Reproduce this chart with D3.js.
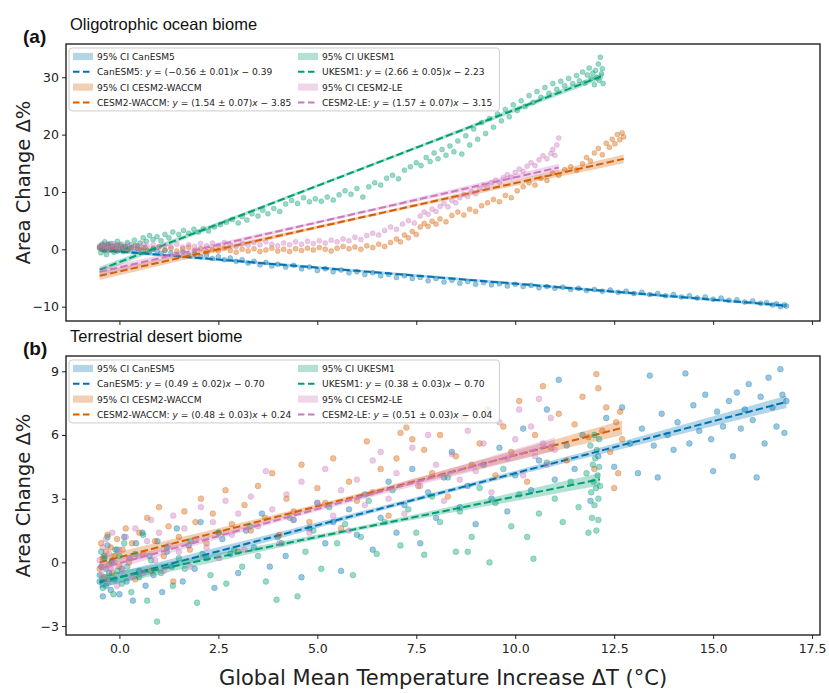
<!DOCTYPE html>
<html><head><meta charset="utf-8">
<script src="https://cdn.jsdelivr.net/npm/d3@7"></script>
<style>
body{margin:0;background:#fff}
text{font-family:"DejaVu Sans",sans-serif}
</style>
</head><body>
<svg id="chart" width="829" height="693"></svg>
<script>
// Climate models, in legend order (column by column)
const models = ["CanESM5", "CESM2-WACCM", "UKESM1", "CESM2-LE"];
const modelColors = ["#0173b2", "#d55e00", "#029e73", "#cc78bc"];

// Regression fits: y = (slope ± err) x + intercept
const oceanSlope = [-0.56, 1.54, 2.66, 1.57];
const oceanSlopeErr = [0.01, 0.07, 0.05, 0.07];
const oceanIntercept = [-0.39, -3.85, -2.23, -3.15];
const desertSlope = [0.49, 0.48, 0.38, 0.51];
const desertSlopeErr = [0.02, 0.03, 0.03, 0.03];
const desertIntercept = [-0.70, 0.24, -0.70, -0.04];

const xTicks = [0, 2.5, 5, 7.5, 10, 12.5, 15, 17.5];
const oceanYTicks = [-10, 0, 10, 20, 30];
const desertYTicks = [-3, 0, 3, 6, 9];

// Oligotrophic ocean biome: [ΔT, area change %]
const oceanCanESM5 = [[-0.5,0.4],[-0.45,0.1],[-0.42,0.7],[-0.38,-0.2],[-0.33,0.3],[-0.28,0.9],[-0.22,0.0],[-0.17,0.5],[-0.1,0.2],[-0.05,-0.3],[0.02,0.6],[0.08,0.1],[0.15,0.4],[0.22,-0.1],[0.3,0.3],[0.38,-0.4],[0.45,0.2],[0.55,-0.2],[0.65,0.3],[0.75,-0.5],[0.85,0.0],[0.95,-0.3],[1.05,-0.7],[1.15,-0.2],[1.3,-0.6],[1.45,-0.9],[1.6,-0.5],[1.75,-1.1],[1.9,-0.8],[2.05,-1.3],[2.2,-1.0],[2.35,-1.6],[2.5,-1.3],[2.65,-1.8],[2.8,-1.5],[2.95,-2.1],[3.1,-1.8],[3.25,-2.4],[3.4,-2.1],[3.55,-2.7],[3.7,-2.3],[3.85,-2.9],[4.0,-2.6],[4.2,-3.1],[4.4,-2.8],[4.6,-3.4],[4.8,-3.1],[5.0,-3.7],[5.2,-3.4],[5.4,-3.9],[5.6,-3.6],[5.8,-4.1],[6.0,-3.9],[6.2,-4.4],[6.4,-4.1],[6.6,-4.6],[6.8,-4.4],[7.0,-4.9],[7.2,-4.6],[7.4,-5.1],[7.6,-4.9],[7.8,-5.5],[8.0,-5.1],[8.2,-5.7],[8.4,-5.4],[8.6,-5.9],[8.8,-5.6],[9.0,-6.1],[9.2,-5.8],[9.4,-6.2],[9.6,-6.0],[9.8,-6.4],[10.0,-6.1],[10.2,-6.5],[10.4,-6.3],[10.6,-6.7],[10.8,-6.5],[11.0,-6.8],[11.2,-6.6],[11.4,-7.0],[11.6,-6.8],[11.8,-7.2],[12.0,-7.0],[12.2,-7.3],[12.4,-7.1],[12.6,-7.5],[12.8,-7.3],[13.0,-7.7],[13.2,-7.5],[13.4,-7.9],[13.6,-7.7],[13.8,-8.1],[14.0,-7.9],[14.2,-8.3],[14.4,-8.1],[14.6,-8.5],[14.8,-8.3],[15.0,-8.7],[15.2,-8.5],[15.4,-8.9],[15.6,-8.8],[15.8,-9.2],[16.0,-9.0],[16.2,-9.4],[16.35,-9.3],[16.5,-9.7],[16.6,-9.5],[16.7,-10.0],[16.8,-9.7],[16.85,-9.9]];
const oceanCESM2WACCM = [[-0.5,0.2],[-0.45,0.6],[-0.4,-0.1],[-0.35,0.4],[-0.3,0.8],[-0.25,0.1],[-0.2,0.5],[-0.15,-0.2],[-0.1,0.3],[-0.05,0.7],[0.0,0.0],[0.1,0.4],[0.2,-0.1],[0.3,0.3],[0.4,0.6],[0.5,0.0],[0.6,0.3],[0.7,-0.2],[0.85,0.2],[1.0,0.5],[1.15,-0.1],[1.3,0.2],[1.45,-0.3],[1.6,0.1],[1.75,0.4],[1.9,-0.2],[2.05,0.1],[2.2,-0.4],[2.35,0.0],[2.5,-0.3],[2.65,0.2],[2.8,-0.2],[2.95,-0.5],[3.1,0.0],[3.25,-0.3],[3.4,0.1],[3.55,-0.4],[3.7,-0.1],[3.85,0.2],[4.0,-0.3],[4.15,0.0],[4.3,-0.4],[4.45,0.1],[4.6,-0.2],[4.75,0.2],[4.9,-0.1],[5.05,0.3],[5.2,0.0],[5.35,-0.3],[5.5,0.2],[5.65,0.5],[5.8,0.1],[5.95,0.4],[6.1,0.0],[6.25,0.6],[6.4,0.3],[6.55,0.9],[6.7,0.5],[6.85,1.2],[7.0,1.8],[7.1,1.3],[7.2,2.5],[7.3,2.0],[7.4,3.1],[7.5,2.6],[7.6,3.9],[7.7,4.5],[7.8,4.0],[7.9,4.9],[8.0,4.4],[8.1,5.3],[8.25,4.8],[8.4,5.9],[8.55,6.5],[8.7,6.0],[8.85,7.0],[9.0,6.6],[9.15,7.6],[9.3,8.1],[9.45,8.7],[9.6,8.3],[9.75,9.4],[9.9,9.0],[10.05,10.2],[10.2,10.9],[10.35,11.6],[10.5,11.2],[10.65,12.4],[10.8,12.0],[10.95,13.3],[11.1,12.9],[11.25,13.9],[11.4,14.4],[11.55,13.8],[11.7,14.9],[11.8,16.0],[11.9,15.4],[12.0,16.8],[12.1,17.6],[12.2,16.5],[12.3,18.5],[12.38,17.8],[12.45,19.2],[12.52,18.4],[12.58,20.0],[12.64,19.1],[12.7,20.3],[12.74,19.6]];
const oceanUKESM1 = [[-0.5,0.3],[-0.47,-0.6],[-0.44,0.9],[-0.4,0.1],[-0.37,1.3],[-0.33,-0.9],[-0.3,0.5],[-0.26,-0.2],[-0.22,1.0],[-0.18,0.2],[-0.14,-0.5],[-0.1,0.7],[-0.05,1.4],[0.0,0.0],[0.05,0.9],[0.1,-0.4],[0.15,0.5],[0.2,1.2],[0.25,0.2],[0.3,0.8],[0.38,1.6],[0.45,0.6],[0.52,1.1],[0.6,2.0],[0.68,1.4],[0.76,2.4],[0.85,1.7],[0.95,2.2],[1.05,1.5],[1.15,2.6],[1.25,2.0],[1.35,3.0],[1.5,2.6],[1.62,3.3],[1.75,2.8],[1.88,3.5],[2.0,3.0],[2.12,3.6],[2.25,3.2],[2.4,3.9],[2.55,4.3],[2.7,4.7],[2.85,5.2],[3.0,4.6],[3.1,5.7],[3.22,5.1],[3.35,6.2],[3.5,5.8],[3.62,6.8],[3.75,6.2],[3.9,7.1],[4.05,6.6],[4.2,7.9],[4.35,8.5],[4.5,8.0],[4.65,9.0],[4.8,8.3],[4.95,8.8],[5.1,8.4],[5.25,9.1],[5.4,8.6],[5.55,9.5],[5.7,10.2],[5.85,9.6],[6.0,10.6],[6.15,9.1],[6.3,10.9],[6.45,11.6],[6.6,11.2],[6.75,12.4],[6.9,12.9],[7.05,12.3],[7.2,13.8],[7.35,14.4],[7.5,15.1],[7.62,14.6],[7.75,16.0],[7.85,15.3],[7.95,16.8],[8.05,15.8],[8.15,17.4],[8.25,16.4],[8.35,18.0],[8.45,17.0],[8.55,18.9],[8.65,16.6],[8.75,19.8],[8.85,18.2],[8.95,21.0],[9.05,19.2],[9.15,22.1],[9.25,20.2],[9.35,22.8],[9.45,21.3],[9.55,23.6],[9.65,22.4],[9.75,24.4],[9.85,23.1],[9.95,25.2],[10.05,24.2],[10.15,25.9],[10.25,24.9],[10.35,26.8],[10.45,25.6],[10.55,27.5],[10.65,26.5],[10.75,28.2],[10.85,27.2],[10.95,28.9],[11.05,27.9],[11.15,29.3],[11.25,28.5],[11.35,29.8],[11.45,28.9],[11.55,30.3],[11.62,29.4],[11.7,30.9],[11.76,29.0],[11.82,30.4],[11.87,31.6],[11.92,29.8],[11.96,30.7],[12.0,28.7],[12.03,31.2],[12.06,30.0],[12.1,32.3],[12.12,29.5],[12.15,33.5],[12.18,30.6],[12.2,31.5],[12.22,28.9]];
const oceanCESM2LE = [[-0.5,0.6],[-0.45,0.2],[-0.4,0.9],[-0.35,0.4],[-0.3,0.1],[-0.25,0.7],[-0.2,0.3],[-0.15,1.0],[-0.1,0.5],[-0.05,0.2],[0.0,0.8],[0.1,0.4],[0.2,0.9],[0.3,0.3],[0.4,0.7],[0.5,0.4],[0.6,1.0],[0.7,0.5],[0.85,0.8],[1.0,0.3],[1.15,0.7],[1.3,0.5],[1.45,0.9],[1.6,0.4],[1.75,0.8],[1.9,0.5],[2.05,1.0],[2.2,0.6],[2.35,1.1],[2.5,0.7],[2.65,1.2],[2.8,0.8],[2.95,0.5],[3.1,1.0],[3.25,0.7],[3.4,1.2],[3.55,0.8],[3.7,1.3],[3.85,0.9],[4.0,0.6],[4.15,1.1],[4.3,0.8],[4.45,1.3],[4.6,0.9],[4.75,1.4],[4.9,1.0],[5.05,1.5],[5.2,1.1],[5.35,1.6],[5.5,1.3],[5.65,1.8],[5.8,1.5],[5.95,2.1],[6.1,1.7],[6.25,2.4],[6.4,2.8],[6.55,2.5],[6.7,3.3],[6.85,3.9],[7.0,3.5],[7.15,4.4],[7.3,5.0],[7.45,4.6],[7.6,5.8],[7.7,6.5],[7.8,6.1],[7.9,7.0],[8.0,6.6],[8.1,7.5],[8.2,8.0],[8.3,7.4],[8.4,8.5],[8.5,8.1],[8.6,9.0],[8.7,9.6],[8.8,9.2],[8.9,10.1],[9.0,9.7],[9.1,10.6],[9.2,11.2],[9.3,10.8],[9.4,11.6],[9.5,12.1],[9.6,11.7],[9.7,12.5],[9.8,13.0],[9.9,12.6],[10.0,13.4],[10.1,14.0],[10.2,13.6],[10.3,14.5],[10.4,15.1],[10.5,14.6],[10.6,15.6],[10.7,16.3],[10.8,15.8],[10.9,16.7],[10.95,17.4],[11.0,16.4],[11.05,18.2],[11.1,19.4]];

// Terrestrial desert biome: [ΔT, area change %]
const desertCanESM5 = [[-0.5,-0.9],[-0.46,-0.2],[-0.42,-1.6],[-0.38,0.3],[-0.34,-1.1],[-0.3,0.8],[-0.26,-0.5],[-0.22,-1.3],[-0.18,0.1],[-0.12,-0.8],[-0.06,0.6],[0.0,-1.5],[0.06,-0.3],[0.12,1.2],[0.18,-0.9],[0.26,0.2],[0.34,-1.8],[0.42,0.9],[0.5,-0.4],[0.58,1.4],[0.66,-1.1],[0.76,0.3],[0.86,-0.6],[0.96,1.0],[1.08,-1.4],[1.2,0.5],[1.32,-0.2],[1.45,1.6],[1.6,-0.9],[1.75,0.8],[1.9,-0.3],[2.05,1.9],[2.2,0.2],[2.4,-1.2],[2.6,1.1],[2.8,0.4],[3.0,-0.5],[3.2,1.5],[3.4,0.7],[3.6,2.3],[3.8,-0.2],[4.0,1.2],[4.2,0.3],[4.4,2.0],[4.6,-0.7],[4.8,1.6],[5.0,2.8],[5.2,0.9],[5.4,1.9],[5.6,-0.4],[5.8,2.5],[6.0,1.3],[6.2,3.2],[6.4,0.6],[6.6,2.1],[6.8,3.8],[7.0,1.4],[7.2,2.7],[7.4,4.4],[7.6,0.9],[7.8,3.3],[8.0,2.1],[8.2,4.0],[8.4,5.2],[8.6,2.6],[8.8,3.6],[9.0,1.8],[9.2,4.6],[9.4,3.0],[9.6,5.4],[9.8,2.4],[10.0,4.1],[10.2,6.3],[10.4,3.4],[10.6,4.8],[10.8,7.2],[11.0,3.9],[11.1,8.6],[11.3,5.5],[11.5,4.4],[11.7,6.0],[11.9,2.9],[12.1,5.0],[12.3,6.8],[12.5,4.5],[12.7,7.3],[12.9,5.6],[13.1,4.2],[13.2,6.3],[13.4,8.8],[13.5,5.5],[13.6,4.0],[13.7,7.0],[13.85,6.0],[14.0,5.3],[14.1,6.6],[14.3,8.9],[14.4,5.6],[14.5,7.4],[14.65,6.2],[14.8,7.9],[14.95,5.8],[15.0,4.3],[15.1,7.1],[15.25,6.4],[15.4,7.6],[15.5,5.0],[15.6,8.0],[15.7,6.3],[15.8,7.2],[15.9,8.4],[16.0,6.7],[16.1,4.0],[16.2,7.8],[16.3,5.6],[16.4,8.7],[16.5,7.3],[16.6,6.4],[16.7,9.1],[16.75,7.9],[16.8,6.1],[16.85,7.6]];
const desertCESM2WACCM = [[-0.5,-0.3],[-0.46,0.9],[-0.42,0.2],[-0.38,-0.7],[-0.34,0.5],[-0.3,1.3],[-0.26,-0.1],[-0.22,0.7],[-0.18,-0.5],[-0.12,0.3],[-0.06,1.1],[0.0,-0.2],[0.08,0.6],[0.16,1.6],[0.24,0.0],[0.32,0.9],[0.4,-0.8],[0.5,1.4],[0.6,0.4],[0.7,2.1],[0.8,-0.4],[0.9,1.0],[1.0,2.6],[1.12,0.3],[1.24,1.7],[1.36,-0.9],[1.5,1.2],[1.64,2.4],[1.78,0.6],[1.92,1.9],[2.06,3.0],[2.2,0.9],[2.36,2.3],[2.52,1.4],[2.68,3.4],[2.84,1.8],[3.0,0.5],[3.16,2.7],[3.32,1.5],[3.5,3.6],[3.68,2.1],[3.86,4.2],[4.04,1.3],[4.22,3.0],[4.4,2.4],[4.6,4.6],[4.8,1.9],[5.0,3.5],[5.2,2.8],[5.4,4.9],[5.6,1.6],[5.8,3.8],[6.0,2.9],[6.25,5.7],[6.4,3.3],[6.6,4.4],[6.8,2.2],[7.0,4.9],[7.1,6.1],[7.25,6.35],[7.4,5.8],[7.55,3.6],[7.7,5.3],[7.9,4.2],[8.1,6.0],[8.3,3.1],[8.5,5.0],[8.7,6.8],[8.9,4.6],[9.1,5.6],[9.3,7.2],[9.5,4.1],[9.7,6.4],[9.9,5.2],[10.1,7.6],[10.3,3.8],[10.5,6.0],[10.7,8.3],[10.9,5.4],[11.1,7.0],[11.3,4.8],[11.5,6.5],[11.7,7.8],[11.85,5.9],[12.0,4.4],[12.05,8.87],[12.1,8.2],[12.2,6.2],[12.3,7.3],[12.4,5.2],[12.5,3.5],[12.55,6.6],[12.6,4.2],[12.65,7.1],[12.7,5.8]];
const desertUKESM1 = [[-0.5,-0.6],[-0.46,0.5],[-0.42,-1.2],[-0.38,0.2],[-0.34,-0.3],[-0.3,1.2],[-0.25,-0.8],[-0.2,0.0],[-0.15,-1.5],[-0.1,0.6],[-0.05,-0.4],[0.0,0.3],[0.06,-1.0],[0.12,0.9],[0.2,-0.2],[0.3,-1.4],[0.4,0.4],[0.5,-0.7],[0.6,1.3],[0.7,-1.8],[0.8,0.1],[0.95,-2.79],[1.05,-0.5],[1.2,0.7],[1.35,-1.1],[1.5,0.2],[1.65,-0.3],[1.8,1.0],[1.96,-1.9],[2.1,0.4],[2.3,-0.6],[2.5,1.4],[2.7,-1.0],[2.9,0.6],[3.1,-0.2],[3.3,1.7],[3.5,0.3],[3.7,-0.9],[3.97,-1.76],[4.1,0.9],[4.3,2.1],[4.5,-1.6],[4.7,0.5],[4.9,1.5],[5.1,-0.3],[5.3,2.6],[5.5,0.9],[5.7,1.8],[5.9,-0.6],[6.1,1.2],[6.3,2.9],[6.5,0.4],[6.7,1.9],[6.9,3.4],[7.1,0.8],[7.3,2.5],[7.5,1.4],[7.7,0.36],[7.9,3.1],[8.1,1.9],[8.3,4.0],[8.5,0.5],[8.6,2.4],[8.8,0.5],[8.9,1.2],[9.1,3.5],[9.35,0.0],[9.5,2.8],[9.7,4.4],[9.9,1.7],[10.1,3.2],[10.3,1.2],[10.46,0.17],[10.6,2.3],[10.8,4.7],[11.0,3.0],[11.2,1.9],[11.4,3.8],[11.6,2.6],[11.8,4.2],[11.85,1.4],[11.9,5.5],[11.92,3.3],[11.94,2.1],[11.96,4.6],[11.98,3.8],[12.0,6.0],[12.0,2.7],[12.02,4.9],[12.04,3.5],[12.05,1.5],[12.06,5.3],[12.08,4.1],[12.1,2.0],[12.1,3.0],[12.12,4.5],[12.12,5.8],[12.14,3.6]];
const desertCESM2LE = [[-0.5,0.1],[-0.46,-0.6],[-0.42,0.7],[-0.38,-0.2],[-0.34,1.1],[-0.3,-0.9],[-0.26,0.4],[-0.22,-0.3],[-0.18,1.4],[-0.12,0.0],[-0.06,-1.1],[0.0,0.6],[0.08,-0.4],[0.16,1.2],[0.24,0.2],[0.32,-0.7],[0.4,1.6],[0.5,0.3],[0.6,-0.5],[0.7,1.0],[0.8,2.0],[0.9,0.1],[1.0,1.4],[1.12,-0.4],[1.24,0.8],[1.36,2.2],[1.5,0.5],[1.64,1.6],[1.78,-0.2],[1.92,1.1],[2.06,2.6],[2.2,0.7],[2.36,1.9],[2.52,0.2],[2.68,2.9],[2.84,1.3],[3.0,2.3],[3.16,0.6],[3.32,3.1],[3.5,1.7],[3.7,4.3],[3.86,2.5],[4.04,0.9],[4.22,3.2],[4.4,2.0],[4.6,3.8],[4.8,1.4],[5.0,2.8],[5.2,4.4],[5.4,2.2],[5.6,3.4],[5.8,1.5],[6.0,3.9],[6.2,2.7],[6.4,4.8],[6.6,5.2],[6.8,3.0],[7.0,4.2],[7.2,2.3],[7.4,5.4],[7.6,3.6],[7.8,6.0],[8.0,4.6],[8.2,2.9],[8.4,5.1],[8.6,3.9],[8.8,6.2],[9.0,4.3],[9.2,5.6],[9.4,3.3],[9.6,6.6],[9.8,4.9],[10.0,5.8],[10.1,7.2],[10.2,4.1],[10.4,6.4],[10.5,5.0],[10.6,7.7],[10.7,5.6],[10.8,4.6],[10.9,6.8],[11.0,5.3]];

const svg = d3.select("#chart");
const x = d3.scaleLinear().domain([-1.35, 17.7]).range([66, 820]);

const panels = [
  { tag: "(a)", title: "Oligotrophic ocean biome", top: 44, bottom: 321,
    yDomain: [-12.5, 35.8], yTicks: oceanYTicks, xLabels: false, r: 2.5, bandFloor: 0.25,
    data: [oceanCanESM5, oceanCESM2WACCM, oceanUKESM1, oceanCESM2LE],
    slope: oceanSlope, err: oceanSlopeErr, icpt: oceanIntercept },
  { tag: "(b)", title: "Terrestrial desert biome", top: 356, bottom: 635,
    yDomain: [-3.42, 9.72], yTicks: desertYTicks, xLabels: true, r: 2.9, bandFloor: 0.1,
    data: [desertCanESM5, desertCESM2WACCM, desertUKESM1, desertCESM2LE],
    slope: desertSlope, err: desertSlopeErr, icpt: desertIntercept }
];

const fmt = d3.format(".2f");
const minus = s => s.replace("-", "\u2212");

panels.forEach((p, pi) => {
  const y = d3.scaleLinear().domain(p.yDomain).range([p.bottom, p.top]);
  const g = svg.append("g");
  const clipId = "clip" + pi;
  svg.append("clipPath").attr("id", clipId).append("rect")
    .attr("x", x.range()[0]).attr("y", p.top)
    .attr("width", x.range()[1] - x.range()[0]).attr("height", p.bottom - p.top);
  const plot = g.append("g").attr("clip-path", `url(#${clipId})`);

  // scatter, confidence band and fit line for each model
  models.forEach((m, i) => {
    const pts = p.data[i];
    const col = modelColors[i];
    plot.append("g").selectAll("circle").data(pts).join("circle")
      .attr("cx", d => x(d[0])).attr("cy", d => y(d[1])).attr("r", p.r)
      .attr("fill", col).attr("fill-opacity", 0.4)
      .attr("stroke", col).attr("stroke-opacity", 0.45).attr("stroke-width", 0.6);

    const [x0, x1] = d3.extent(pts, d => d[0]);
    const xm = d3.mean(pts, d => d[0]);
    const fit = v => p.slope[i] * v + p.icpt[i];
    const half = v => Math.sqrt(p.bandFloor ** 2 + (1.5 * p.err[i] * (v - xm)) ** 2);
    const xs = d3.range(41).map(k => x0 + (x1 - x0) * k / 40);
    plot.append("path").datum(xs)
      .attr("d", d3.area().x(v => x(v)).y0(v => y(fit(v) - half(v))).y1(v => y(fit(v) + half(v))))
      .attr("fill", col).attr("fill-opacity", 0.3);
    plot.append("path").datum([x0, x1])
      .attr("d", d3.line().x(v => x(v)).y(v => y(fit(v))))
      .attr("stroke", col).attr("stroke-width", 2).attr("stroke-dasharray", "7.4,3.2")
      .attr("fill", "none");
  });

  // axes
  const yAxis = g.append("g").attr("transform", `translate(${x.range()[0]},0)`)
    .call(d3.axisLeft(y).tickValues(p.yTicks).tickSize(4).tickPadding(3)
      .tickFormat(v => minus(String(v))));
  const xAxis = g.append("g").attr("transform", `translate(0,${p.bottom})`)
    .call(d3.axisBottom(x).tickValues(xTicks).tickSize(4).tickPadding(5)
      .tickFormat(v => p.xLabels ? d3.format(".1f")(v) : ""));
  [yAxis, xAxis].forEach(a => {
    a.select(".domain").remove();
    a.selectAll("line").attr("stroke", "#222").attr("stroke-width", 1);
    a.selectAll("text").attr("fill", "#222").style("font-size", "12.5px")
      .style("font-family", "'DejaVu Sans', sans-serif");
  });

  g.append("rect").attr("x", x.range()[0]).attr("y", p.top)
    .attr("width", x.range()[1] - x.range()[0]).attr("height", p.bottom - p.top)
    .attr("fill", "none").attr("stroke", "#111").attr("stroke-width", 1.3);

  // panel tag and title
  g.append("text").attr("x", 23).attr("y", p.top - 1).text(p.tag)
    .style("font-family", "'Liberation Sans', Arial, sans-serif")
    .style("font-weight", "bold").style("font-size", "19px").attr("fill", "#111");
  g.append("text").attr("x", 70).attr("y", p.top - 14).text(p.title)
    .style("font-family", "'Liberation Sans', Arial, sans-serif")
    .style("font-size", "16.5px").attr("fill", "#111");

  // y-axis label
  g.append("text")
    .attr("transform", `translate(30,${(p.top + p.bottom) / 2}) rotate(-90)`)
    .attr("text-anchor", "middle").style("font-size", "19.5px").attr("fill", "#222")
    .text("Area Change \u0394%");

  // legend: two columns, CI patch above each fit line entry
  const leg = g.append("g");
  const box = leg.append("rect");
  const colX = [73, 298];
  const rowY = k => p.top + 12.5 + k * 15.3;
  let maxRight = 0;
  models.forEach((m, i) => {
    const col = modelColors[i];
    const cx = colX[Math.floor(i / 2)];
    const r0 = (i % 2) * 2;
    leg.append("rect").attr("x", cx).attr("y", rowY(r0) - 3.6).attr("width", 20).attr("height", 7.2)
      .attr("fill", col).attr("fill-opacity", 0.3);
    const t1 = leg.append("text").attr("x", cx + 24).attr("y", rowY(r0) + 3.4)
      .style("font-size", "9.1px").attr("fill", "#222").text("95% CI " + m);
    leg.append("line").attr("x1", cx).attr("x2", cx + 20)
      .attr("y1", rowY(r0 + 1)).attr("y2", rowY(r0 + 1))
      .attr("stroke", col).attr("stroke-width", 2).attr("stroke-dasharray", "6.5,3.5");
    const t2 = leg.append("text").attr("x", cx + 24).attr("y", rowY(r0 + 1) + 3.4)
      .style("font-size", "9.1px").attr("fill", "#222");
    const b = p.icpt[i];
    t2.append("tspan").text(m + ": ");
    t2.append("tspan").style("font-style", "italic").text("y");
    t2.append("tspan").text(" = (" + minus(fmt(p.slope[i])) + " \u00b1 " + fmt(p.err[i]) + ")");
    t2.append("tspan").style("font-style", "italic").text("x");
    t2.append("tspan").text((b < 0 ? " \u2212 " : " + ") + fmt(Math.abs(b)));
    [t1, t2].forEach(t => {
      const n = t.node();
      maxRight = Math.max(maxRight, cx + 24 + n.getComputedTextLength());
    });
  });
  box.attr("x", 69).attr("y", p.top + 4).attr("rx", 3)
    .attr("width", maxRight + 7 - 69).attr("height", rowY(3) + 8.5 - (p.top + 4))
    .attr("fill", "#fff").attr("fill-opacity", 0.8).attr("stroke", "#ccc").attr("stroke-width", 1);
});

// shared x-axis label
svg.append("text").attr("x", 443).attr("y", 685).attr("text-anchor", "middle")
  .style("font-size", "21px").attr("fill", "#222")
  .text("Global Mean Temperature Increase \u0394T (\u00b0C)");
</script>
</body></html>
